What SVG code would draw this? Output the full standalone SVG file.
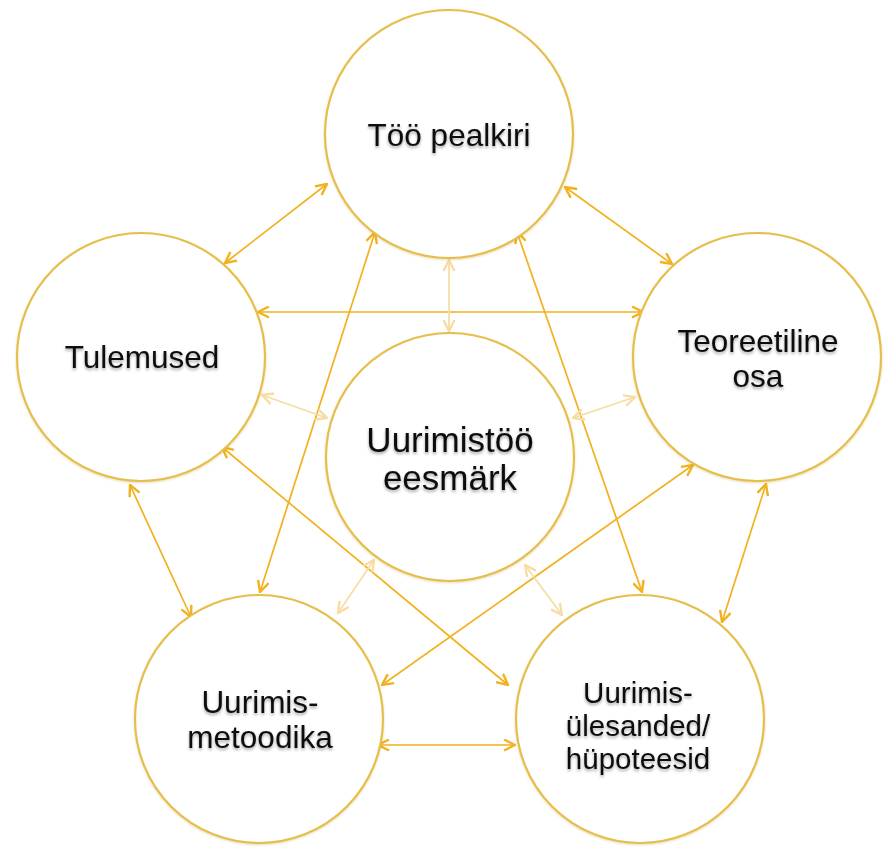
<svg xmlns="http://www.w3.org/2000/svg" width="884" height="847" viewBox="0 0 884 847">
<defs>
<style>
.node circle{fill:#ffffff;stroke:#E6BE4C;stroke-width:2.2;filter:url(#cs)}
.node text{font-family:"Liberation Sans",Arial,Helvetica,sans-serif;font-size:31.5px;fill:#111111;text-anchor:middle;filter:url(#ts)}
.node text.big{font-size:35px}
.node text.sm{font-size:29.5px}
.c line{stroke:#F2B11E;stroke-width:1.7;fill:none;marker-start:url(#ah);marker-end:url(#ah)}
.c line.pale{stroke:#F7DCA3;marker-start:url(#ahp);marker-end:url(#ahp)}
</style>
<filter id="ts" x="-10%" y="-30%" width="120%" height="170%">
<feDropShadow dx="0" dy="2" stdDeviation="1.5" flood-color="#000000" flood-opacity="0.35"/>
</filter>
<filter id="cs" x="-5%" y="-5%" width="110%" height="112%">
<feDropShadow dx="0" dy="1" stdDeviation="1" flood-color="#B08A20" flood-opacity="0.3"/>
</filter>
<marker id="ah" viewBox="0 0 13 13" refX="12" refY="6.5" markerWidth="13" markerHeight="13" markerUnits="userSpaceOnUse" orient="auto-start-reverse">
<path d="M1,1 L12,6.5 L1,12" fill="none" stroke="#F2B11E" stroke-width="2.4" stroke-linejoin="miter"/>
</marker>
<marker id="ahp" viewBox="0 0 13 13" refX="12" refY="6.5" markerWidth="13" markerHeight="13" markerUnits="userSpaceOnUse" orient="auto-start-reverse">
<path d="M1,1 L12,6.5 L1,12" fill="none" stroke="#F7DCA3" stroke-width="2.4"/>
</marker>
</defs>
<rect width="884" height="847" fill="#ffffff"/>

<g id="connectors" class="c">
<line x1="327" y1="184" x2="225" y2="263"/>
<line x1="565" y1="187" x2="672" y2="264"/>
<line x1="258" y1="312" x2="643" y2="312"/>
<line class="pale" x1="449" y1="260" x2="449" y2="331"/>
<line x1="375" y1="232" x2="260" y2="592"/>
<line x1="517" y1="232" x2="642" y2="592"/>
<line class="pale" x1="262" y1="395" x2="327" y2="418"/>
<line class="pale" x1="573" y1="418" x2="635" y2="397"/>
<line x1="130" y1="485" x2="191" y2="617"/>
<line x1="766" y1="484" x2="722" y2="622"/>
<line x1="222" y1="447" x2="508" y2="685"/>
<line x1="693" y1="465" x2="382" y2="685"/>
<line x1="378" y1="745" x2="515" y2="745"/>
<line class="pale" x1="374" y1="560" x2="338" y2="613"/>
<line class="pale" x1="525" y1="565" x2="562" y2="615"/>
</g>

<g id="node-top" class="node">
<circle cx="449" cy="134" r="124"/>
<text x="449" y="146">Töö pealkiri</text>
</g>
<g id="node-left" class="node">
<circle cx="141" cy="357" r="124"/>
<text x="142" y="368">Tulemused</text>
</g>
<g id="node-right" class="node">
<circle cx="757" cy="357" r="124"/>
<text x="758" y="352">Teoreetiline</text>
<text x="758" y="387">osa</text>
</g>
<g id="node-center" class="node">
<circle cx="450" cy="457" r="124"/>
<text class="big" x="450" y="452">Uurimistöö</text>
<text class="big" x="450" y="490">eesmärk</text>
</g>
<g id="node-bottom-left" class="node">
<circle cx="259" cy="719" r="124"/>
<text x="260" y="713">Uurimis-</text>
<text x="260" y="748">metoodika</text>
</g>
<g id="node-bottom-right" class="node">
<circle cx="640" cy="719" r="124"/>
<text class="sm" x="638" y="703">Uurimis-</text>
<text class="sm" x="638" y="736">ülesanded/</text>
<text class="sm" x="638" y="769">hüpoteesid</text>
</g>
</svg>
